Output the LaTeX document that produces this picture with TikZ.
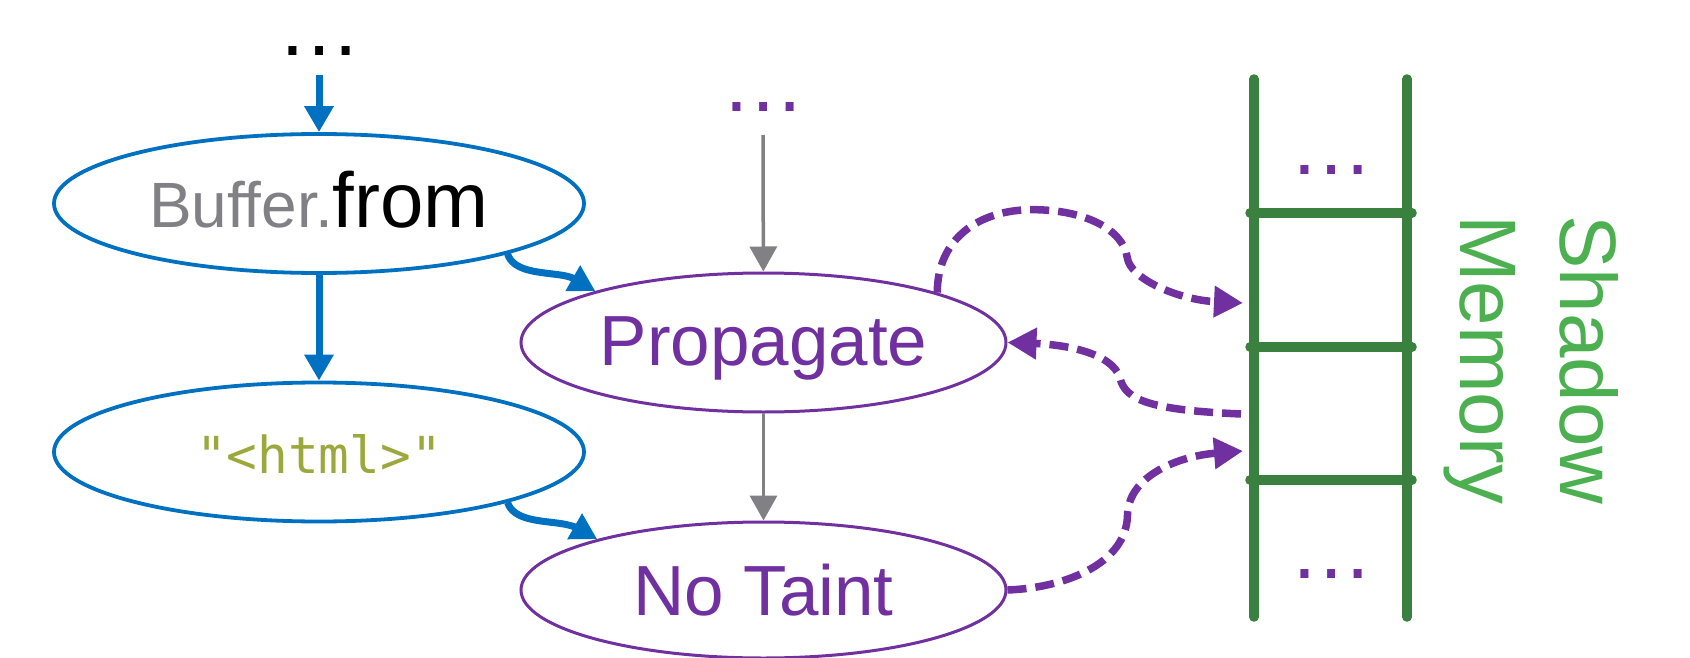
\documentclass[tikz,border=0pt]{standalone}
\usepackage{fontspec}
\setmainfont{Liberation Sans}
\setmonofont{DejaVu Sans Mono}
\usetikzlibrary{shapes.geometric,arrows.meta}

\definecolor{flowblue}{RGB}{0,112,192}
\definecolor{taintpurple}{RGB}{112,48,160}
\definecolor{midgray}{RGB}{128,128,133}
\definecolor{codeolive}{RGB}{155,168,60}
\definecolor{laddergreen}{RGB}{58,128,62}
\definecolor{labelgreen}{RGB}{76,175,80}

\begin{document}
\begin{tikzpicture}[x=1pt,y=-1pt,
  oval/.style={ellipse, inner sep=0pt, text depth=0pt},
  apinode/.style={oval, draw=flowblue, line width=3.8pt,
    minimum width=530pt, minimum height=139pt},
  statenode/.style={oval, draw=taintpurple, line width=3pt,
    minimum width=485pt, text=taintpurple, font=\fontsize{71}{85}\selectfont},
  ellipsisdots/.style={inner sep=0pt, anchor=base, font=\fontsize{84}{100}\selectfont},
  bluearrow/.style={draw=flowblue, line width=7pt,
    -{Triangle[length=26pt,width=28pt]}},
  grayarrow/.style={draw=midgray, line width=3.5pt,
    -{Triangle[length=25pt,width=27pt]}},
  shadowarrow/.style={draw=taintpurple, line width=7.5pt,
    dash pattern=on 19pt off 9pt, -{Triangle[length=29pt,width=30pt]}},
  rail/.style={draw=laddergreen, line width=9.5pt, line cap=round},
  memlabel/.style={text=labelgreen, rotate=-90, anchor=base west,
    inner sep=0pt, font=\fontsize{80}{100}\selectfont}
]
\useasboundingbox (0,0) rectangle (1690,658);

% call chain on the left
\node[ellipsisdots] (topdots) at (319,56) {…};
\node[apinode, text height=47pt] (buf) at (319,203.5)
  {{\fontsize{64}{77}\selectfont\color{midgray}Buffer.}{\fontsize{78}{94}\selectfont from}};
\node[apinode, text height=42pt, text=codeolive,
  font=\ttfamily\fontsize{51}{61}\selectfont] (str) at (319,452) {"<html>"};

% taint states
\node[ellipsisdots, text=taintpurple] (propdots) at (763,112) {…};
\node[statenode, minimum height=139pt, text height=45pt] (prop) at (763.5,342.5) {Propagate};
\node[statenode, minimum height=136pt, text height=50pt] (clean) at (763.5,590) {No Taint};

% shadow memory ladder
\draw[rail] (1254,79) -- (1254,617);
\draw[rail] (1407,79) -- (1407,617);
\foreach \y in {213,347,480} \draw[rail] (1250,\y) -- (1412,\y);
\node[ellipsisdots, text=taintpurple] (upperdots) at (1331,175) {…};
\node[ellipsisdots, text=taintpurple] (lowerdots) at (1331,578) {…};
\coordinate (cellA) at (1243,303);
\coordinate (cellB) at (1241,414);
\coordinate (cellC) at (1243,451);

\node[memlabel] (shadowlbl) at (1560,215) {Shadow};
\node[memlabel] (memlbl) at (1460,215) {Memory};

% control flow
\draw[bluearrow, shorten <=19pt] (topdots) -- (buf);
\draw[bluearrow] (buf) -- (str);
\draw[bluearrow] (buf.-15.5) .. controls +(6,18) and +(-20,-3) .. ++(53,21)
  .. controls +(15,2) and +(-14,-8) .. (prop.163.8);
\draw[bluearrow] (str.-15.5) .. controls +(6,18) and +(-20,-3) .. ++(53,21)
  .. controls +(15,2) and +(-14,-8) .. (clean.163.8);
\draw[grayarrow, shorten <=23pt] (propdots) -- (prop);
\draw[grayarrow] (prop) -- (clean);

% shadow memory reads and writes
\draw[shadowarrow] (prop.16.5) .. controls +(0,-55) and +(-52,0) .. ++(95,-83)
  .. controls +(53,0) and +(-4,-28) .. ++(95,48)
  .. controls +(3,22) and +(-63,-3) .. (cellA);
\draw[shadowarrow] (cellB) .. controls +(-91,-4) and +(5,22) .. ++(-121,-36)
  .. controls +(-8,-26) and +(55,2) .. (prop.east);
\draw[shadowarrow] (clean.east) .. controls +(55,-2) and +(-1,50) .. ++(120,-75)
  .. controls +(1,-40) and +(-63,5) .. (cellC);
\end{tikzpicture}
\end{document}
